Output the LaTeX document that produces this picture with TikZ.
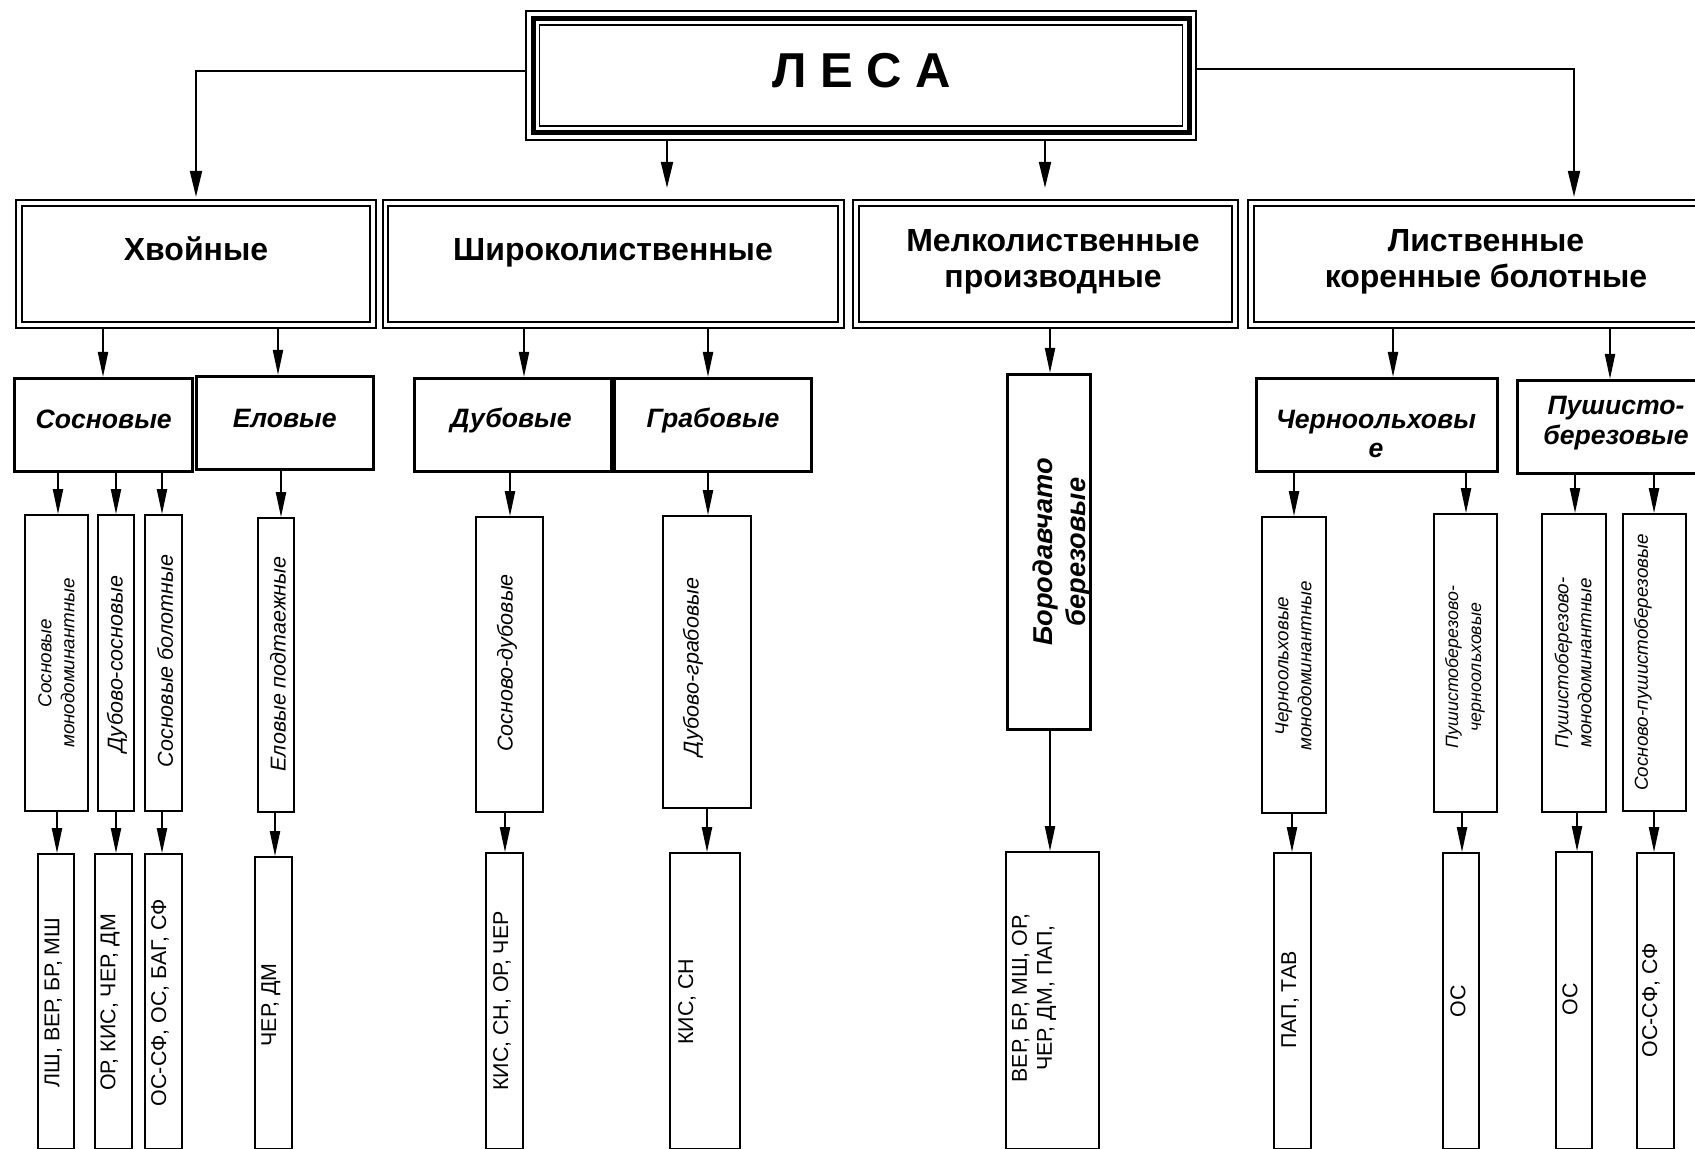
\documentclass[tikz,border=0pt]{standalone}
\usepackage{fontspec}
\setmainfont{Liberation Sans}
\usetikzlibrary{arrows.meta,fit}
\tikzset{
 box0/.style={draw, line width=2.5pt, inner sep=0pt, outer sep=0pt},
 box1/.style={draw, double=white, double distance=1.85pt, line width=1pt, inner sep=0pt, outer sep=0pt},
 box2/.style={draw, line width=1.5pt, inner sep=0pt, outer sep=0pt},
 box3/.style={draw, line width=0.9pt, inner sep=0pt, outer sep=0pt},
 txt0/.style={font=\bfseries\fontsize{24.5}{28}\selectfont, inner sep=0pt},
 txt1/.style={font=\bfseries\fontsize{16}{18.3}\selectfont, align=center, inner sep=0pt},
 txt2/.style={font=\bfseries\itshape\fontsize{13.3}{14.7}\selectfont, align=center, inner sep=0pt},
 txt3/.style={font=\itshape\fontsize{10.75}{12}\selectfont, rotate=90, align=center, inner sep=0pt},
 txt3s/.style={font=\itshape\fontsize{9.4}{11.5}\selectfont, rotate=90, align=center, inner sep=0pt},
 txt4/.style={font=\fontsize{10.7}{12.5}\selectfont, rotate=90, align=center, inner sep=0pt},
 arr/.style={line width=1pt, -{Triangle[length=12.5pt,width=5pt]}},
 arrtop/.style={line width=1pt, -{Triangle[length=13pt,width=6pt]}},
}
\begin{document}
\begin{tikzpicture}[x=0.5pt,y=-0.5pt]
\fill[white] (0,0) rectangle (1695,1149);
\useasboundingbox (0,0) rectangle (1695,1149);

% ---- top box
\node[box0, fit={(533,18.3) (1189,132.9)}] (lesa) {};
\draw[line width=0.9pt] ([shift={(-7,-7)}]lesa.north west) rectangle ([shift={(7,7)}]lesa.south east);
\draw[line width=0.9pt] ([shift={(6.5,6.5)}]lesa.north west) rectangle ([shift={(-6.5,-6.5)}]lesa.south east);
\node[txt0] (lesat) at (862,71) {Л Е С А};

% ---- level 1
\node[box1, fit={(18.9,202.9) (373.1,325.1)}] (hv) {};
\node[box1, fit={(385.5,202.9) (841.1,325.1)}] (sh) {};
\node[box1, fit={(855.9,202.9) (1235.1,325.1)}] (ml) {};
\node[box1, fit={(1250.9,202.9) (1721,325.1)}] (lk) {};
\node[txt1, anchor=base] (hvt) at (196,261) {Хвойные};
\node[txt1, anchor=base] (sht) at (613,261) {Широколиственные};
\node[txt1] (mlt) at (1053,262) {Мелколиственные\\производные};
\node[txt1] (lkt) at (1486,262) {Лиственные\\коренные болотные};

% ---- level 2
\node[box2, fit={(14,379) (192,471)}] (sos) {};
\node[box2, fit={(196,377) (373,469)}] (elo) {};
\node[box2, fit={(414,379) (611,471)}] (dub) {};
\node[box2, fit={(614,379) (811,471)}] (gra) {};
\node[box2, fit={(1007,375) (1090,729)}] (bor) {};
\node[box2, fit={(1256,379) (1497,471)}] (cho) {};
\node[box2, fit={(1517,381) (1715,473)}] (pus) {};
\node[txt2, anchor=base] (sost) at (103.7,429) {Сосновые};
\node[txt2, anchor=base] (elot) at (284.7,428) {Еловые};
\node[txt2, anchor=base] (dubt) at (511,428) {Дубовые};
\node[txt2, anchor=base] (grat) at (713,428) {Грабовые};
\node[txt2] (chot) at (1376,434) {Черноольховы\\е};
\node[txt2] (pust) at (1616,423) {Пушисто-\\березовые};
\node[txt2, rotate=90, font=\bfseries\itshape\fontsize{13.6}{16.5}\selectfont] (bort) at (1061.5,552) {Бородавчато\\березовые};

% ---- level 3
\node[box3, fit={(25,515) (88,811)}] (sm) {};
\node[box3, fit={(98,515) (134,811)}] (ds) {};
\node[box3, fit={(145,515) (182,811)}] (sb) {};
\node[box3, fit={(258,518) (294,812)}] (ep) {};
\node[box3, fit={(476,517) (543,812)}] (sd) {};
\node[box3, fit={(663,516) (751,808)}] (dg) {};
\node[box3, fit={(1262,517) (1326,813)}] (chm) {};
\node[box3, fit={(1434,514) (1497,812)}] (pch) {};
\node[box3, fit={(1542,514) (1606,812)}] (pm) {};
\node[box3, fit={(1623,514) (1686,811)}] (sp) {};
\node[txt3s] (smt) at (56.5,663) {Сосновые\\монодоминантные};
\node[txt3] (dst) at (117,664) {Дубово-сосновые};
\node[txt3] (sbt) at (165,661) {Сосновые болотные};
\node[txt3] (ept) at (278,664) {Еловые подтаежные};
\node[txt3] (sdt) at (507,663) {Сосново-дубовые};
\node[txt3] (dgt) at (693,667) {Дубово-грабовые};
\node[txt3s] (chmt) at (1293.5,666) {Черноольховые\\монодоминантные};
\node[txt3s, font=\itshape\fontsize{8.9}{11.5}\selectfont] (pcht) at (1465,667) {Пушистоберезово-\\черноольховые};
\node[txt3s] (pmt) at (1573,663) {Пушистоберезово-\\монодоминантные};
\node[txt3s] (spt) at (1643,662.5) {Сосново-пушистоберезовые};

% ---- level 4
\node[box3, fit={(38,854) (74,1148.5)}] (r1) {};
\node[box3, fit={(95,854) (132,1148.5)}] (r2) {};
\node[box3, fit={(145,854) (182,1148.5)}] (r3) {};
\node[box3, fit={(255,857) (292,1148.5)}] (r4) {};
\node[box3, fit={(486,853) (523,1148.5)}] (r5) {};
\node[box3, fit={(670,853) (740,1148.5)}] (r6) {};
\node[box3, fit={(1006,852) (1099,1148.5)}] (r7) {};
\node[box3, fit={(1274,853) (1311,1148.5)}] (r8) {};
\node[box3, fit={(1443,853) (1479,1148.5)}] (r9) {};
\node[box3, fit={(1556,852) (1592,1148.5)}] (r10) {};
\node[box3, fit={(1637,853) (1674,1148.5)}] (r11) {};
\node[txt4] (r1t) at (53.5,1002.5) {ЛШ, ВЕР, БР, МШ};
\node[txt4] (r2t) at (110,1002.5) {ОР, КИС, ЧЕР, ДМ};
\node[txt4] (r3t) at (160,1002.5) {ОС-СФ, ОС, БАГ, СФ};
\node[txt4] (r4t) at (271,1005) {ЧЕР, ДМ};
\node[txt4] (r5t) at (502,1001) {КИС, СН, ОР, ЧЕР};
\node[txt4] (r6t) at (687,1001.7) {КИС, СН};
\node[txt4] (r7t) at (1034,998) {ВЕР, БР, МШ, ОР,\\ЧЕР, ДМ, ПАП,};
\node[txt4] (r8t) at (1290,1000) {ПАП, ТАВ};
\node[txt4] (r9t) at (1458,1001) {ОС};
\node[txt4] (r10t) at (1570,999) {ОС};
\node[txt4] (r11t) at (1651,1000) {ОС-СФ, СФ};

% ---- connector x positions
\coordinate (xA) at (196,71);
\coordinate (xB) at (1574,69);
\coordinate (xC) at (667,0);
\coordinate (xD) at (1045,0);
\coordinate (c1) at (103,0);
\coordinate (c2) at (278,0);
\coordinate (c3) at (524,0);
\coordinate (c4) at (708,0);
\coordinate (c5) at (1050,0);
\coordinate (c6) at (1393,0);
\coordinate (c7) at (1610,0);
\coordinate (d1) at (58,0);
\coordinate (d2) at (116,0);
\coordinate (d3) at (162,0);
\coordinate (d4) at (281,0);
\coordinate (d5) at (510,0);
\coordinate (d6) at (708,0);
\coordinate (d7) at (1294,0);
\coordinate (d8) at (1466,0);
\coordinate (d9) at (1575,0);
\coordinate (d10) at (1654,0);
\coordinate (e1) at (57,0);
\coordinate (e2) at (116,0);
\coordinate (e3) at (162,0);
\coordinate (e4) at (275,0);
\coordinate (e5) at (505,0);
\coordinate (e6) at (707,0);
\coordinate (e7) at (1050,0);
\coordinate (e8) at (1292,0);
\coordinate (e9) at (1462,0);
\coordinate (e10) at (1577,0);
\coordinate (e11) at (1654,0);

% ---- connectors from the top box
\draw[arrtop, shorten <=3.5pt, shorten >=3pt] (lesa.west |- xA) -| (hv.north -| xA);
\draw[arrtop, shorten <=3.5pt, shorten >=3pt] (lesa.east |- xB) -| (lk.north -| xB);
\draw[arrtop, shorten <=3.5pt, shorten >=7.5pt] (lesa.south -| xC) -- (sh.north -| xC);
\draw[arrtop, shorten <=3.5pt, shorten >=7.5pt] (lesa.south -| xD) -- (ml.north -| xD);

% ---- level 1 -> 2
\draw[arr, shorten <=1.5pt, shorten >=1pt] (hv.south -| c1) -- (sos.north -| c1);
\draw[arr, shorten <=1.5pt, shorten >=1pt] (hv.south -| c2) -- (elo.north -| c2);
\draw[arr, shorten <=1.5pt, shorten >=1pt] (sh.south -| c3) -- (dub.north -| c3);
\draw[arr, shorten <=1.5pt, shorten >=1pt] (sh.south -| c4) -- (gra.north -| c4);
\draw[arr, shorten <=1.5pt, shorten >=1pt] (ml.south -| c5) -- (bor.north -| c5);
\draw[arr, shorten <=1.5pt, shorten >=1pt] (lk.south -| c6) -- (cho.north -| c6);
\draw[arr, shorten <=1.5pt, shorten >=1pt] (lk.south -| c7) -- (pus.north -| c7);

% ---- level 2 -> 3
\draw[arr, shorten >=0.4pt] (sos.south -| d1) -- (sm.north -| d1);
\draw[arr, shorten >=0.4pt] (sos.south -| d2) -- (ds.north -| d2);
\draw[arr, shorten >=0.4pt] (sos.south -| d3) -- (sb.north -| d3);
\draw[arr, shorten >=0.4pt] (elo.south -| d4) -- (ep.north -| d4);
\draw[arr, shorten >=0.4pt] (dub.south -| d5) -- (sd.north -| d5);
\draw[arr, shorten >=0.4pt] (gra.south -| d6) -- (dg.north -| d6);
\draw[arr, shorten >=0.4pt] (cho.south -| d7) -- (chm.north -| d7);
\draw[arr, shorten >=0.4pt] (cho.south -| d8) -- (pch.north -| d8);
\draw[arr, shorten >=0.4pt] (pus.south -| d9) -- (pm.north -| d9);
\draw[arr, shorten >=0.4pt] (pus.south -| d10) -- (sp.north -| d10);

% ---- level 3 -> 4
\draw[arr, shorten >=0.4pt] (sm.south -| e1) -- (r1.north -| e1);
\draw[arr, shorten >=0.4pt] (ds.south -| e2) -- (r2.north -| e2);
\draw[arr, shorten >=0.4pt] (sb.south -| e3) -- (r3.north -| e3);
\draw[arr, shorten >=0.4pt] (ep.south -| e4) -- (r4.north -| e4);
\draw[arr, shorten >=0.4pt] (sd.south -| e5) -- (r5.north -| e5);
\draw[arr, shorten >=0.4pt] (dg.south -| e6) -- (r6.north -| e6);
\draw[arr, shorten >=0.4pt] (bor.south -| e7) -- (r7.north -| e7);
\draw[arr, shorten >=0.4pt] (chm.south -| e8) -- (r8.north -| e8);
\draw[arr, shorten >=0.4pt] (pch.south -| e9) -- (r9.north -| e9);
\draw[arr, shorten >=0.4pt] (pm.south -| e10) -- (r10.north -| e10);
\draw[arr, shorten >=0.4pt] (sp.south -| e11) -- (r11.north -| e11);
\end{tikzpicture}
\end{document}
